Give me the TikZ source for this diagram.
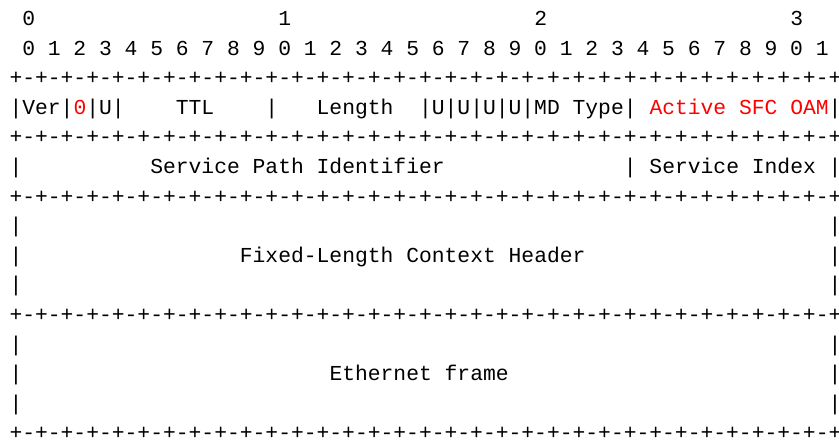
\documentclass[tikz,border=0pt]{standalone}
\usepackage{fontspec}
\newfontfamily\asciifont{Liberation Mono}
\newcommand\rowy[1]{-25.5-29.6*#1}
\begin{document}
\begin{tikzpicture}[x=1pt,y=1pt,
  asciirow/.style={anchor=base west, inner sep=0pt, outer sep=0pt,
    font=\asciifont\fontsize{21.33}{25}\selectfont, text=black}]
\useasboundingbox (0,0) rectangle (839,-440);
\def\rule{+-+-+-+-+-+-+-+-+-+-+-+-+-+-+-+-+-+-+-+-+-+-+-+-+-+-+-+-+-+-+-+-+}
\node[asciirow] (r0) at (9.5,{\rowy{0}}) {~0~~~~~~~~~~~~~~~~~~~1~~~~~~~~~~~~~~~~~~~2~~~~~~~~~~~~~~~~~~~3};
\node[asciirow] (r1) at (9.5,{\rowy{1}}) {~0~1~2~3~4~5~6~7~8~9~0~1~2~3~4~5~6~7~8~9~0~1~2~3~4~5~6~7~8~9~0~1};
\node[asciirow] (r2) at (9.5,{\rowy{2}}) {\rule};
\node[asciirow] (r3) at (9.5,{\rowy{3}}) {|Ver|\textcolor{red}{0}|U|~~~~TTL~~~~|~~~Length~~|U|U|U|U|MD~Type|~\textcolor{red}{Active~SFC~OAM}|};
\node[asciirow] (r4) at (9.5,{\rowy{4}}) {\rule};
\node[asciirow] (r5) at (9.5,{\rowy{5}}) {|~~~~~~~~~~Service~Path~Identifier~~~~~~~~~~~~~~|~Service~Index~|};
\node[asciirow] (r6) at (9.5,{\rowy{6}}) {\rule};
\node[asciirow] (r7) at (9.5,{\rowy{7}}) {|~~~~~~~~~~~~~~~~~~~~~~~~~~~~~~~~~~~~~~~~~~~~~~~~~~~~~~~~~~~~~~~|};
\node[asciirow] (r8) at (9.5,{\rowy{8}}) {|~~~~~~~~~~~~~~~~~Fixed-Length~Context~Header~~~~~~~~~~~~~~~~~~~|};
\node[asciirow] (r9) at (9.5,{\rowy{9}}) {|~~~~~~~~~~~~~~~~~~~~~~~~~~~~~~~~~~~~~~~~~~~~~~~~~~~~~~~~~~~~~~~|};
\node[asciirow] (r10) at (9.5,{\rowy{10}}) {\rule};
\node[asciirow] (r11) at (9.5,{\rowy{11}}) {|~~~~~~~~~~~~~~~~~~~~~~~~~~~~~~~~~~~~~~~~~~~~~~~~~~~~~~~~~~~~~~~|};
\node[asciirow] (r12) at (9.5,{\rowy{12}}) {|~~~~~~~~~~~~~~~~~~~~~~~~Ethernet~frame~~~~~~~~~~~~~~~~~~~~~~~~~|};
\node[asciirow] (r13) at (9.5,{\rowy{13}}) {|~~~~~~~~~~~~~~~~~~~~~~~~~~~~~~~~~~~~~~~~~~~~~~~~~~~~~~~~~~~~~~~|};
\node[asciirow] (r14) at (9.5,{\rowy{14}}) {\rule};
\end{tikzpicture}
\end{document}
